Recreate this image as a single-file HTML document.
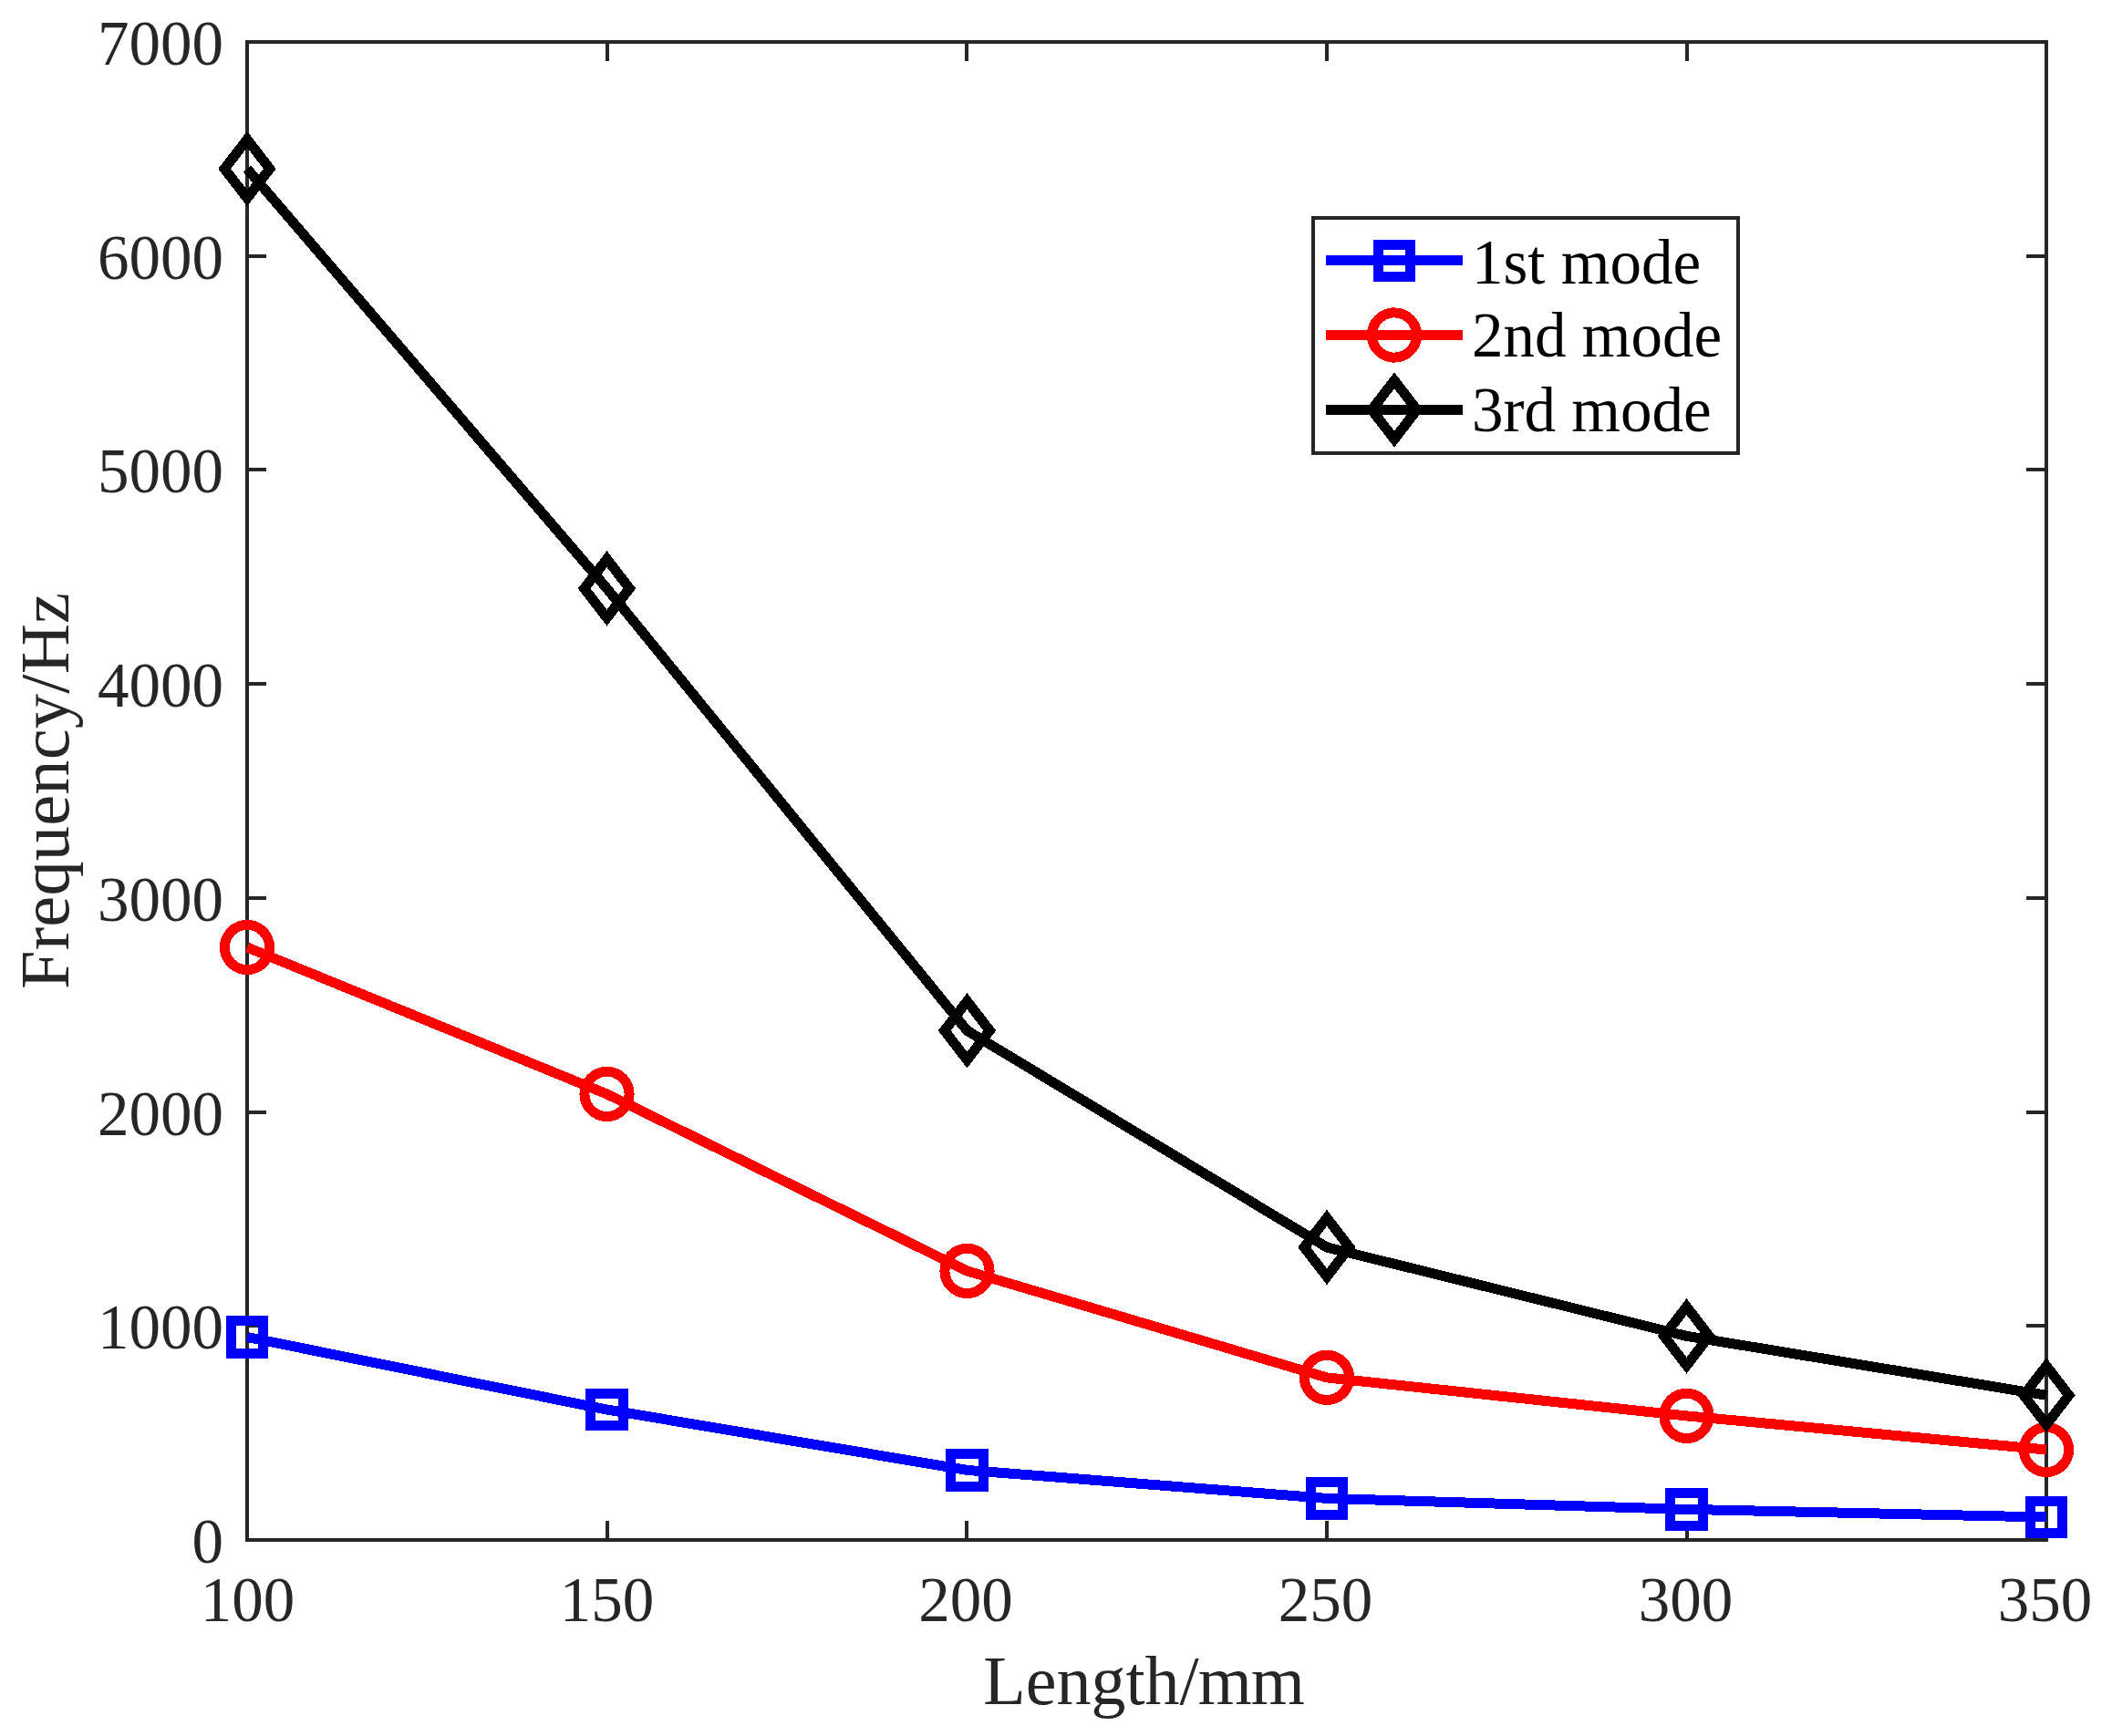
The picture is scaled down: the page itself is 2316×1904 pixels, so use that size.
<!DOCTYPE html>
<html lang="en">
<head>
<meta charset="utf-8">
<title>Frequency vs Length</title>
<style>
html,body{margin:0;padding:0;background:#fff;}
body{width:2316px;height:1904px;overflow:hidden;}
svg{display:block;}
text{font-family:"Liberation Serif",serif;}
.tk{font-size:69px;fill:#262626;}
.lb{font-size:76px;fill:#262626;}
.lg{font-size:69px;fill:#000;}
</style>
</head>
<body>
<svg width="2316" height="1904" viewBox="0 0 2316 1904">
<rect x="0" y="0" width="2316" height="1904" fill="#ffffff"/>

<g stroke="#262626" stroke-width="4" fill="none" shape-rendering="crispEdges">
<rect x="271" y="46" width="1973" height="1643"/>
<line x1="666" y1="1689" x2="666" y2="1668"/>
<line x1="666" y1="46" x2="666" y2="67"/>
<line x1="1060" y1="1689" x2="1060" y2="1668"/>
<line x1="1060" y1="46" x2="1060" y2="67"/>
<line x1="1455" y1="1689" x2="1455" y2="1668"/>
<line x1="1455" y1="46" x2="1455" y2="67"/>
<line x1="1850" y1="1689" x2="1850" y2="1668"/>
<line x1="1850" y1="46" x2="1850" y2="67"/>
<line x1="271" y1="1454" x2="292" y2="1454"/>
<line x1="2244" y1="1454" x2="2222" y2="1454"/>
<line x1="271" y1="1220" x2="292" y2="1220"/>
<line x1="2244" y1="1220" x2="2222" y2="1220"/>
<line x1="271" y1="985" x2="292" y2="985"/>
<line x1="2244" y1="985" x2="2222" y2="985"/>
<line x1="271" y1="750" x2="292" y2="750"/>
<line x1="2244" y1="750" x2="2222" y2="750"/>
<line x1="271" y1="515" x2="292" y2="515"/>
<line x1="2244" y1="515" x2="2222" y2="515"/>
<line x1="271" y1="281" x2="292" y2="281"/>
<line x1="2244" y1="281" x2="2222" y2="281"/>
</g>
<g class="tk" text-anchor="middle">
<text x="271.4" y="1778">100</text>
<text x="665.6" y="1778">150</text>
<text x="1059.0" y="1778">200</text>
<text x="1453.5" y="1778">250</text>
<text x="1848.5" y="1778">300</text>
<text x="2242.5" y="1778">350</text>
</g>
<g class="tk" text-anchor="end">
<text x="245" y="1714.0">0</text>
<text x="245" y="1479.3">1000</text>
<text x="245" y="1244.6">2000</text>
<text x="245" y="1009.9">3000</text>
<text x="245" y="775.1">4000</text>
<text x="245" y="540.4">5000</text>
<text x="245" y="305.7">6000</text>
<text x="245" y="71.0">7000</text>
</g>
<text class="lb" x="1078.3" y="1868.6">Length/<tspan dx="-1">m</tspan><tspan dx="-1">m</tspan></text>
<text class="lb" style="font-size:76.5px;letter-spacing:0.15px" text-anchor="middle" transform="translate(75.4 867.4) rotate(-90)">Frequency/Hz</text>
<g shape-rendering="crispEdges">
<polyline points="271.00,1466.50 665.50,1546.00 1060.50,1612.40 1455.00,1643.40 1849.50,1655.40 2244.00,1664.00" fill="none" stroke="#0000ff" stroke-width="11" stroke-linejoin="round" stroke-linecap="butt"/>
<rect x="253.25" y="1448.75" width="35.50" height="35.50" fill="none" stroke="#0000ff" stroke-width="11"/>
<rect x="647.75" y="1528.25" width="35.50" height="35.50" fill="none" stroke="#0000ff" stroke-width="11"/>
<rect x="1042.75" y="1594.65" width="35.50" height="35.50" fill="none" stroke="#0000ff" stroke-width="11"/>
<rect x="1437.25" y="1625.65" width="35.50" height="35.50" fill="none" stroke="#0000ff" stroke-width="11"/>
<rect x="1831.75" y="1637.65" width="35.50" height="35.50" fill="none" stroke="#0000ff" stroke-width="11"/>
<rect x="2226.25" y="1646.25" width="35.50" height="35.50" fill="none" stroke="#0000ff" stroke-width="11"/>
<polyline points="271.00,1039.00 665.50,1199.90 1060.50,1393.90 1455.00,1510.90 1849.50,1552.90 2244.00,1590.00" fill="none" stroke="#ff0000" stroke-width="11" stroke-linejoin="round" stroke-linecap="butt"/>
<circle cx="271.00" cy="1039.00" r="24.6" fill="none" stroke="#ff0000" stroke-width="11"/>
<circle cx="665.50" cy="1199.90" r="24.6" fill="none" stroke="#ff0000" stroke-width="11"/>
<circle cx="1060.50" cy="1393.90" r="24.6" fill="none" stroke="#ff0000" stroke-width="11"/>
<circle cx="1455.00" cy="1510.90" r="24.6" fill="none" stroke="#ff0000" stroke-width="11"/>
<circle cx="1849.50" cy="1552.90" r="24.6" fill="none" stroke="#ff0000" stroke-width="11"/>
<circle cx="2244.00" cy="1590.00" r="24.6" fill="none" stroke="#ff0000" stroke-width="11"/>
<polyline points="271.00,185.10 665.50,645.40 1060.50,1130.30 1455.00,1368.00 1849.50,1465.40 2244.00,1530.30" fill="none" stroke="#000000" stroke-width="11" stroke-linejoin="round" stroke-linecap="butt"/>
<polygon points="271.00,152.90 295.80,185.10 271.00,217.30 246.20,185.10" fill="none" stroke="#000000" stroke-width="11" stroke-linejoin="miter" stroke-miterlimit="10"/>
<polygon points="665.50,613.20 690.30,645.40 665.50,677.60 640.70,645.40" fill="none" stroke="#000000" stroke-width="11" stroke-linejoin="miter" stroke-miterlimit="10"/>
<polygon points="1060.50,1098.10 1085.30,1130.30 1060.50,1162.50 1035.70,1130.30" fill="none" stroke="#000000" stroke-width="11" stroke-linejoin="miter" stroke-miterlimit="10"/>
<polygon points="1455.00,1335.80 1479.80,1368.00 1455.00,1400.20 1430.20,1368.00" fill="none" stroke="#000000" stroke-width="11" stroke-linejoin="miter" stroke-miterlimit="10"/>
<polygon points="1849.50,1433.20 1874.30,1465.40 1849.50,1497.60 1824.70,1465.40" fill="none" stroke="#000000" stroke-width="11" stroke-linejoin="miter" stroke-miterlimit="10"/>
<polygon points="2244.00,1498.10 2268.80,1530.30 2244.00,1562.50 2219.20,1530.30" fill="none" stroke="#000000" stroke-width="11" stroke-linejoin="miter" stroke-miterlimit="10"/>
</g>
<rect x="1440" y="239" width="466" height="258" fill="#ffffff" stroke="#262626" stroke-width="4" shape-rendering="crispEdges"/>
<g shape-rendering="crispEdges">
<line x1="1453.7" y1="285.3" x2="1604.2" y2="285.3" stroke="#0000ff" stroke-width="11"/>
<rect x="1511.25" y="268.05" width="35.50" height="35.50" fill="none" stroke="#0000ff" stroke-width="11"/>
<line x1="1453.7" y1="367.5" x2="1604.2" y2="367.5" stroke="#ff0000" stroke-width="11"/>
<circle cx="1529.00" cy="367.50" r="24.6" fill="none" stroke="#ff0000" stroke-width="11"/>
<line x1="1453.7" y1="449.5" x2="1604.2" y2="449.5" stroke="#000000" stroke-width="11"/>
<polygon points="1529.00,417.30 1553.80,449.50 1529.00,481.70 1504.20,449.50" fill="none" stroke="#000000" stroke-width="11" stroke-linejoin="miter" stroke-miterlimit="10"/>
</g>
<g class="lg">
<text x="1614" y="311">1st mode</text>
<text x="1614" y="391">2nd mode</text>
<text x="1614" y="473">3rd mode</text>
</g>
</svg>
</body>
</html>
